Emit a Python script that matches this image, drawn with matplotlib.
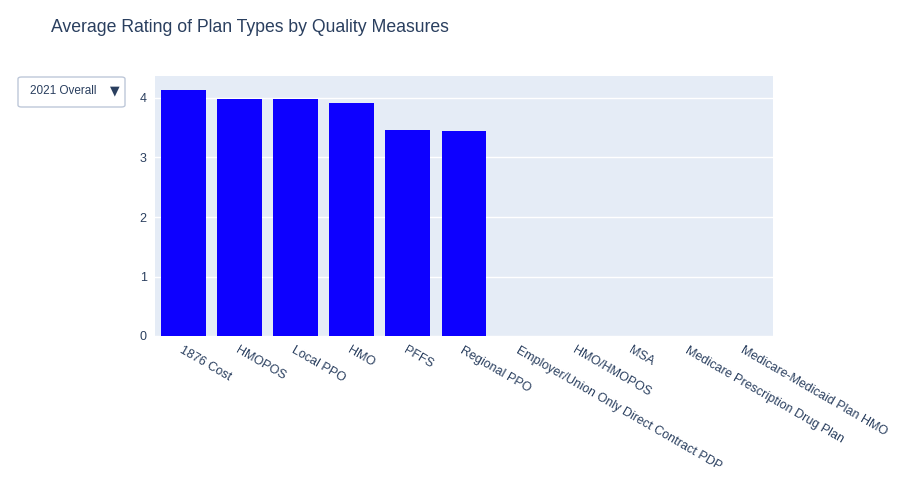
import matplotlib
matplotlib.use("Agg")
import matplotlib.pyplot as plt
from matplotlib.patches import FancyBboxPatch

plt.rcParams['font.family'] = ['Liberation Sans', 'DejaVu Sans']

categories = ["1876 Cost", "HMOPOS", "Local PPO", "HMO", "PFFS", "Regional PPO",
              "Employer/Union Only Direct Contract PDP", "HMO/HMOPOS", "MSA",
              "Medicare Prescription Drug Plan", "Medicare-Medicaid Plan HMO"]
values = [4.13, 3.98, 3.98, 3.92, 3.46, 3.44, 0, 0, 0, 0, 0]
yticks = [0, 1, 2, 3, 4]

fc = "#2a3f5f"
fig = plt.figure(figsize=(9.02, 4.83), dpi=100)
W, H = 902, 483
ax = fig.add_axes([155/W, 1-336/H, (773-155)/W, (336-76)/H])
ax.set_facecolor("#e5ecf6")
x = list(range(len(categories)))
ax.bar(x, values, width=0.8, color="#0d00ff", zorder=3)
ax.set_xlim(-0.5, len(categories)-0.5)
ax.set_ylim(0, 260/59.5)
ax.set_yticks(yticks)
ax.set_yticklabels([str(v) for v in yticks], fontsize=9, color=fc)
ax.grid(axis="y", color="white", linewidth=1, zorder=0)
ax.set_xticks(x)
ax.set_xticklabels(categories, rotation=-30, ha="left", va="top",
                   rotation_mode="anchor", fontsize=9, color=fc)
ax.tick_params(length=0, pad=6)
for s in ax.spines.values():
    s.set_visible(False)

fig.text(51/W, 1-27/H, "Average Rating of Plan Types by Quality Measures",
         fontsize=12.7, color=fc, va="center")
box = FancyBboxPatch((18/W, 1-107/H), 107/W, 30/H, boxstyle="round,pad=0,rounding_size=0.004",
                     transform=fig.transFigure, facecolor="white", edgecolor="#bec8d9", linewidth=1)
fig.patches.append(box)
fig.text(30/W, 1-91/H, "2021 Overall", fontsize=8.5, color=fc, va="center")
fig.text(110/W, 1-91/H, "▼", fontsize=9, color=fc, va="center", family="DejaVu Sans")
fig.savefig("out.png", dpi=100)
